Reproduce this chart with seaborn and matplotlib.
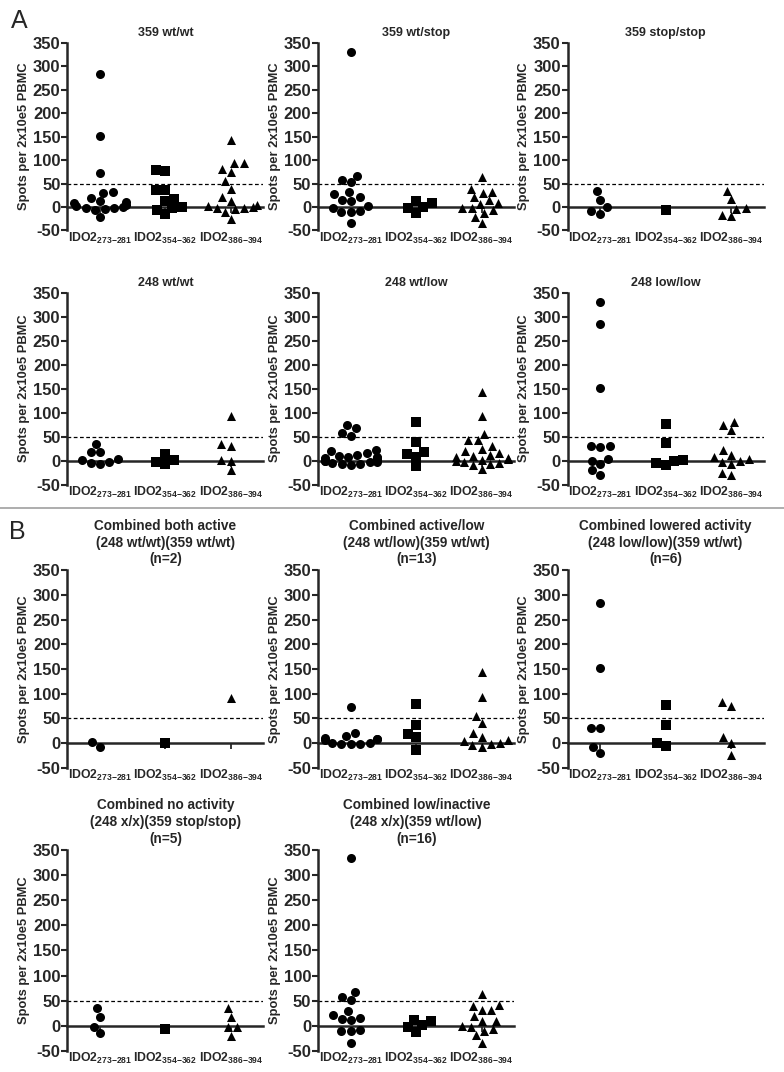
import warnings
import pandas as pd
import matplotlib.pyplot as plt
from matplotlib.lines import Line2D
import seaborn as sns

warnings.filterwarnings("ignore")

# peptide groups (x categories) and their subscript ranges
peptides = ["273-281", "354-362", "386-394"]
markers = ["o", "s", "^"]

# --- A: 359 wt/wt ---
wtwt359_273 = [283, 151, 72, 31, 30, 20, 12, 10, 8, 5, 2, 0, -2, -3, -5, -6, -22]
wtwt359_354 = [80, 77, 37, 37, 18, 12, 0, -2, -6, -15]
wtwt359_386 = [143, 94, 93, 82, 75, 55, 39, 21, 13, 5, 3, 0, -2, -3, -5, -10, -26]
# --- A: 359 wt/stop ---
wtstop359_273 = [331, 67, 58, 53, 32, 28, 21, 16, 13, 2, -2, -8, -10, -10, -35]
wtstop359_354 = [1, 13, 8, -2, -12]
wtstop359_386 = [63, 39, 32, 30, 21, 14, 9, 6, -2, -3, -7, -12, -21, -35]
# --- A: 359 stop/stop ---
stopstop359_273 = [34, 16, -1, -8, -15]
stopstop359_354 = [-6]
stopstop359_386 = [35, 18, -4, -3, -16, -20]
# --- A: 248 wt/wt ---
wtwt248_273 = [34, 17, 18, 4, 1, -3, -8, -5]
wtwt248_354 = [13, 2, -3, -7]
wtwt248_386 = [92, 35, 31, 1, -20, -1]
# --- A: 248 wt/low ---
wtlow248_273 = [74, 67, 58, 51, 21, 20, 15, 12, 10, 8, 8, 5, 5, 3, 2, 0, 0, -2, -3, -5, -8, -10, -7]
wtlow248_354 = [81, 38, 18, 14, 8, -12]
wtlow248_386 = [142, 92, 56, 42, 42, 30, 25, 20, 15, 12, 10, 8, 5, 3, 2, 0, -2, -5, -8, -10, -17]
# --- A: 248 low/low ---
lowlow248_273 = [331, 284, 152, 31, 28, 31, 4, 0, -8, -30, -20]
lowlow248_354 = [76, 37, 2, 0, -10, -5]
lowlow248_386 = [81, 74, 63, 21, 12, 7, 3, 0, -2, -8, -25, -30]
# --- B: combined both active ---
both_273 = [-8, 1]
both_354 = [-1]
both_386 = [91]
# --- B: combined active/low ---
actlow_273 = [73, 20, 13, 10, 8, 8, 5, 0, 0, -3, -3, -2]
actlow_354 = [79, 37, 19, 12, -15]
actlow_386 = [143, 93, 54, 40, 21, 12, 6, 3, -1, -4, -8, -3]
# --- B: combined lowered activity ---
lowered_273 = [283, 152, 31, 31, -9, -21]
lowered_354 = [76, 37, -6, 0]
lowered_386 = [74, 82, 11, 0, -25]
# --- B: combined no activity ---
noact_273 = [35, 18, -15, -2]
noact_354 = [-7]
noact_386 = [35, 18, -2, -20, -3]
# --- B: combined low/inactive ---
lowinact_273 = [333, 67, 58, 51, 29, 21, 15, 14, 12, -9, -10, -10, -34]
lowinact_354 = [2, 12, 9, -3, -12]
lowinact_386 = [63, 41, 40, 31, 31, 19, 10, 9, 0, -3, -7, -10, -19, -33]

titles_a = ["359 wt/wt", "359 wt/stop", "359 stop/stop",
            "248 wt/wt", "248 wt/low", "248 low/low"]
titles_b = ["Combined both active\n(248 wt/wt)(359 wt/wt)\n(n=2)",
            "Combined active/low\n(248 wt/low)(359 wt/wt)\n(n=13)",
            "Combined lowered activity\n(248 low/low)(359 wt/wt)\n(n=6)",
            "Combined no activity\n(248 x/x)(359 stop/stop)\n(n=5)",
            "Combined low/inactive\n(248 x/x)(359 wt/low)\n(n=16)"]

groups_a = [(wtwt359_273, wtwt359_354, wtwt359_386),
            (wtstop359_273, wtstop359_354, wtstop359_386),
            (stopstop359_273, stopstop359_354, stopstop359_386),
            (wtwt248_273, wtwt248_354, wtwt248_386),
            (wtlow248_273, wtlow248_354, wtlow248_386),
            (lowlow248_273, lowlow248_354, lowlow248_386)]
groups_b = [(both_273, both_354, both_386),
            (actlow_273, actlow_354, actlow_386),
            (lowered_273, lowered_354, lowered_386),
            (noact_273, noact_354, noact_386),
            (lowinact_273, lowinact_354, lowinact_386)]

sns.set_style("white")
plt.rcParams["font.family"] = ["Liberation Sans", "DejaVu Sans"]
plt.rcParams["mathtext.fontset"] = "custom"
plt.rcParams["mathtext.rm"] = "Liberation Sans"
plt.rcParams["mathtext.bf"] = "Liberation Sans:bold"
plt.rcParams["mathtext.it"] = "Liberation Sans:italic"

xlabels = [r"$\mathbf{IDO2_{%s{-}%s}}$" % tuple(p.split("-")) for p in peptides]


def draw_panel(ax, title, groups, title_size):
    for pep, vals, mk in zip(peptides, groups, markers):
        df = pd.DataFrame({"peptide": pep, "spots": vals})
        sns.swarmplot(data=df, x="peptide", y="spots", order=peptides,
                      marker=mk, color="black", size=6.5, linewidth=0, ax=ax)
    ax.set_xlim(-0.5, 2.5)
    ax.set_ylim(-50, 350)
    ax.axhline(50, color="black", ls=(0, (3, 2)), lw=0.9, zorder=0)
    sns.despine(ax=ax)
    ax.spines["left"].set_linewidth(1.8)
    ax.spines["bottom"].set_position(("data", 0))
    ax.spines["bottom"].set_linewidth(1.8)
    ax.set_yticks(range(-50, 351, 50))
    ax.set_yticklabels([str(v) for v in range(-50, 351, 50)],
                       fontsize=12, fontweight="bold")
    ax.tick_params(axis="y", direction="out", length=4, width=1.5, pad=1, left=True)
    ax.tick_params(axis="x", direction="out", length=4, width=1.3,
                   bottom=True, labelbottom=False)
    ax.set_xlabel("")
    ax.set_ylabel("Spots per 2x10e5 PBMC", fontsize=9.3, fontweight="bold", labelpad=2)
    ax.set_title(title, fontsize=title_size, fontweight="bold", pad=5, linespacing=1.25)
    sec = ax.secondary_xaxis("bottom")
    sec.set_xticks(range(len(peptides)))
    sec.set_xticklabels(xlabels, fontsize=8.8)
    sec.tick_params(length=0, pad=0)
    sec.spines["bottom"].set_visible(False)


fig = plt.figure(figsize=(7.84, 10.72), dpi=100)
lefts = [0.086, 0.406, 0.724]
width = 0.25
rows = [(0.785, 0.175), (0.548, 0.179), (0.284, 0.184), (0.0195, 0.188)]

for i, (title, groups) in enumerate(zip(titles_a, groups_a)):
    b, h = rows[i // 3]
    ax = fig.add_axes([lefts[i % 3], b, width, h])
    draw_panel(ax, title, groups, 9)

for i, (title, groups) in enumerate(zip(titles_b, groups_b)):
    b, h = rows[2 + i // 3]
    ax = fig.add_axes([lefts[i % 3], b, width, h])
    draw_panel(ax, title, groups, 9.8)

fig.text(0.014, 0.980, "A", fontsize=18, va="center")
fig.text(0.012, 0.504, "B", fontsize=18, va="center")
fig.add_artist(Line2D([0, 1], [0.526, 0.526], color="#a0a0a0", lw=1.2))

fig.savefig("out.png", dpi=100)
